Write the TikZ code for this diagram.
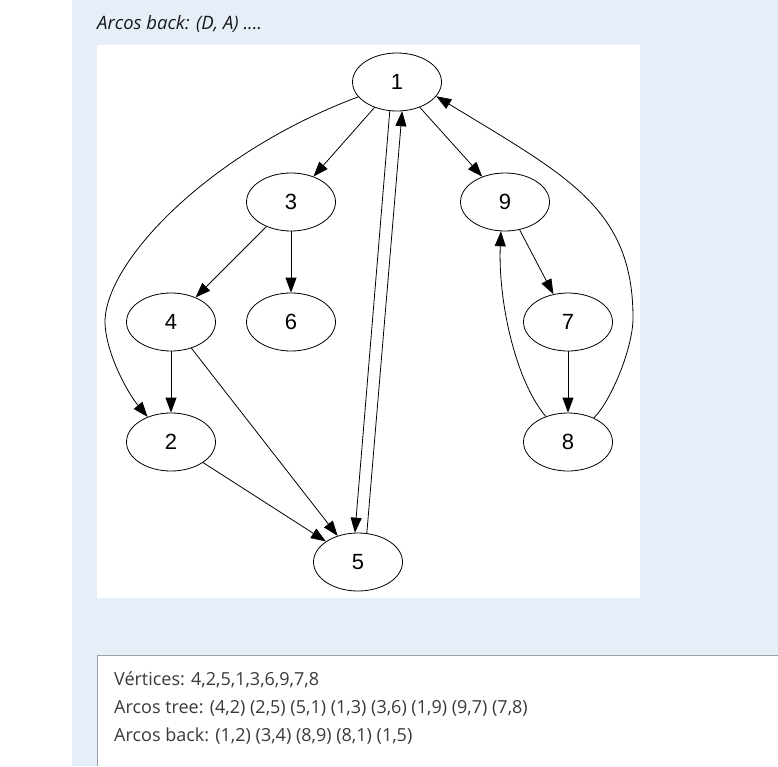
\documentclass[tikz,border=0pt]{standalone}
\usepackage{fontspec}
\setmainfont{Liberation Sans}
\newfontfamily\uifont{Open Sans}
\usetikzlibrary{arrows.meta,shapes.geometric}
\definecolor{panelblue}{HTML}{E6EEF8}
\definecolor{boxgray}{HTML}{9AA1A8}
\definecolor{uitext}{HTML}{3A3A3A}
\begin{document}
\begin{tikzpicture}[x=1pt,y=-1pt,
  vtx/.style={draw, ellipse, minimum width=89pt, minimum height=58pt, inner sep=0pt,
    font=\fontsize{22}{22}\selectfont, line width=0.8pt},
  edge/.style={-{Triangle[length=15pt,width=11pt]}, line width=0.8pt},
  hdr/.style={anchor=base west, inner sep=0pt, font=\uifont\itshape\fontsize{18.5}{18.5}\selectfont, text=black!90},
  info/.style={anchor=base west, inner sep=0pt, font=\uifont\fontsize{18}{18}\selectfont, text=uitext}]
\useasboundingbox (0,0) rectangle (778,766);
\fill[white] (0,0) rectangle (778,766);
\fill[panelblue] (72,0) rectangle (778,766);
\fill[white] (97,45) rectangle (640,598);
\fill[white] (97,655) rectangle (778,766);
\draw[boxgray, line width=1pt] (778,655) -- (97,655) -- (97,766);

\node[hdr] (title) at (97,29) {Arcos back: (D, A) ....};

\node[vtx] (n1) at (397,82) {1};
\node[vtx] (n3) at (291,202) {3};
\node[vtx] (n9) at (505,202) {9};
\node[vtx] (n4) at (171,322) {4};
\node[vtx] (n6) at (291,322) {6};
\node[vtx] (n7) at (568,322) {7};
\node[vtx] (n2) at (171,442) {2};
\node[vtx] (n8) at (568,442) {8};
\node[vtx] (n5) at (358,562) {5};

\draw[edge] (n1) -- (n3);
\draw[edge] (n1) -- (n9);
\draw[edge] (n3) -- (n4);
\draw[edge] (n3) -- (n6);
\draw[edge] (n4) -- (n2);
\draw[edge] (n4) -- (n5);
\draw[edge] (n2) -- (n5);
\draw[edge] (n9) -- (n7);
\draw[edge] (n7) -- (n8);
\draw[edge] (n1.256) -- (n5.96);
\draw[edge] (n5.73) -- (n1.280);
\draw[edge] (n1.201) .. controls (210,152) and (104,262) .. (105,323)
  .. controls (106,353) and (127,392) .. (n2.133);
\draw[edge] (n8.131) .. controls (515,380) and (498,300) .. (n9.262);
\draw[edge] (n8.43) .. controls (611,401) and (633,348) .. (633,318)
  .. controls (633,208) and (567,176) .. (n1.340);

\node[info] (l1) at (114,685) {Vértices: 4,2,5,1,3,6,9,7,8};
\node[info] (l2) at (114,713) {Arcos tree: (4,2) (2,5) (5,1) (1,3) (3,6) (1,9) (9,7) (7,8)};
\node[info] (l3) at (114,741) {Arcos back: (1,2) (3,4) (8,9) (8,1) (1,5)};
\end{tikzpicture}
\end{document}
